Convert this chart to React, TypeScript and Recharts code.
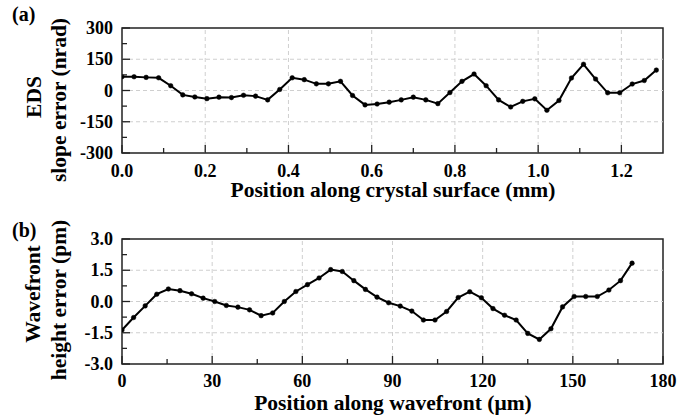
import React from 'react';
import { LineChart, Line, XAxis, YAxis, ReferenceLine, ReferenceArea } from 'recharts';

// ---------- Data ----------
const posA = [0, 0.029, 0.058, 0.088, 0.117, 0.146, 0.175, 0.204, 0.233, 0.263, 0.292, 0.321, 0.35, 0.379, 0.409, 0.438, 0.467, 0.496, 0.525, 0.554, 0.584, 0.613, 0.642, 0.671, 0.7, 0.73, 0.759, 0.788, 0.817, 0.846, 0.875, 0.905, 0.934, 0.963, 0.992, 1.021, 1.05, 1.08, 1.109, 1.138, 1.167, 1.196, 1.226, 1.255, 1.284];
const slopeErr = [66, 66, 63, 61, 23, -21, -31, -39, -32, -34, -23, -27, -45, 5, 61, 52, 32, 32, 44, -24, -69, -65, -56, -45, -32, -45, -63, -10, 44, 79, 23, -45, -79, -52, -40, -95, -48, 60, 126, 55, -11, -11, 31, 48, 98];

const posB = [0, 3.86, 7.71, 11.57, 15.43, 19.29, 23.14, 27.0, 30.86, 34.71, 38.57, 42.43, 46.29, 50.14, 54.0, 57.86, 61.71, 65.57, 69.43, 73.29, 77.14, 81.0, 84.86, 88.71, 92.57, 96.43, 100.29, 104.14, 108.0, 111.86, 115.71, 119.57, 123.43, 127.29, 131.14, 135.0, 138.86, 142.71, 146.57, 150.43, 154.29, 158.14, 162.0, 165.86, 169.71];
const heightErr = [-1.37, -0.77, -0.21, 0.35, 0.6, 0.52, 0.37, 0.16, 0.0, -0.19, -0.27, -0.4, -0.68, -0.55, 0.0, 0.48, 0.81, 1.13, 1.53, 1.44, 1.0, 0.58, 0.21, -0.06, -0.22, -0.46, -0.89, -0.89, -0.48, 0.19, 0.47, 0.18, -0.34, -0.66, -0.89, -1.53, -1.82, -1.31, -0.26, 0.24, 0.24, 0.24, 0.55, 1.0, 1.84];

const xMajorA = [0, 0.2, 0.4, 0.6, 0.8, 1.0, 1.2];
const xMinorA = [0.1, 0.3, 0.5, 0.7, 0.9, 1.1];
const yMajorA = [-300, -150, 0, 150, 300];
const yMinorA = [-225, -75, 75, 225];

const xMajorB = [0, 30, 60, 90, 120, 150, 180];
const xMinorB = [15, 45, 75, 105, 135, 165];
const yMajorB = [-3, -1.5, 0, 1.5, 3];
const yMinorB = [-2.25, -0.75, 0.75, 2.25];

const dataA = posA.map((x, i) => ({ x, y: slopeErr[i] }));
const dataB = posB.map((x, i) => ({ x, y: heightErr[i] }));

const FONT = '"Liberation Serif", "Times New Roman", serif';
const AXIS = '#222';
const GRID = '#cfcfcf';

const isIn = (arr: number[], v: number) => arr.some((a) => Math.abs(a - v) < 1e-9);

function makeXTick(majors: number[], fmt: (v: number) => string, labelDy: number) {
  return (props: any) => {
    const { x, y, payload } = props;
    const v = payload.value;
    const major = isIn(majors, v);
    return (
      <g>
        <line x1={x} x2={x} y1={y} y2={y - (major ? 8 : 5)} stroke={AXIS} strokeWidth={1.3} />
        {major && (
          <text x={x} y={y + labelDy} textAnchor="middle" fontFamily={FONT} fontWeight="bold" fontSize={18} fill="#000">
            {fmt(v)}
          </text>
        )}
      </g>
    );
  };
}

function makeYTick(majors: number[], fmt: (v: number) => string) {
  return (props: any) => {
    const { x, y, payload } = props;
    const v = payload.value;
    const major = isIn(majors, v);
    return (
      <g>
        <line x1={x} x2={x + (major ? 8 : 5)} y1={y} y2={y} stroke={AXIS} strokeWidth={1.3} />
        {major && (
          <text x={x - 9} y={y + 6} textAnchor="end" fontFamily={FONT} fontWeight="bold" fontSize={18} fill="#000">
            {fmt(v)}
          </text>
        )}
      </g>
    );
  };
}

const Panel = (props: {
  data: { x: number; y: number }[];
  xDomain: [number, number];
  yDomain: [number, number];
  xMajor: number[];
  xMinor: number[];
  yMajor: number[];
  yMinor: number[];
  xFmt: (v: number) => string;
  yFmt: (v: number) => string;
  height: number;
  margin: { top: number; right: number; bottom: number; left: number };
  labelDy: number;
}) => {
  const { data, xDomain, yDomain, xMajor, xMinor, yMajor, yMinor, xFmt, yFmt, height, margin, labelDy } = props;
  const xTicks = [...xMajor, ...xMinor].filter((v) => v >= xDomain[0] && v <= xDomain[1]).sort((a, b) => a - b);
  const yTicks = [...yMajor, ...yMinor].sort((a, b) => a - b);
  const vGrid = xMajor.filter((v) => v > xDomain[0] && v < xDomain[1]);
  const hGrid = yMajor.filter((v) => v > yDomain[0] && v < yDomain[1]);
  return (
    <LineChart width={695} height={height} data={data} margin={margin}>
      <XAxis
        dataKey="x"
        type="number"
        domain={xDomain}
        ticks={xTicks}
        interval={0}
        height={1}
        tickSize={0}
        tickMargin={0}
        tickLine={false}
        axisLine={false}
        allowDataOverflow
        tick={makeXTick(xMajor, xFmt, labelDy)}
      />
      <YAxis
        type="number"
        domain={yDomain}
        ticks={yTicks}
        interval={0}
        width={1}
        tickSize={0}
        tickMargin={0}
        tickLine={false}
        axisLine={false}
        allowDataOverflow
        tick={makeYTick(yMajor, yFmt)}
      />
      {vGrid.map((v) => (
        <ReferenceLine key={'v' + v} x={v} stroke={GRID} strokeDasharray="4 3" strokeWidth={1} />
      ))}
      {hGrid.map((v) => (
        <ReferenceLine key={'h' + v} y={v} stroke={GRID} strokeDasharray="4 3" strokeWidth={1} />
      ))}
      <ReferenceArea
        x1={xDomain[0]}
        x2={xDomain[1]}
        y1={yDomain[0]}
        y2={yDomain[1]}
        fill="none"
        fillOpacity={0}
        stroke={AXIS}
        strokeWidth={1.5}
      />
      <Line
        type="linear"
        dataKey="y"
        stroke="#000"
        strokeWidth={2}
        dot={{ r: 2.3, fill: '#000', stroke: '#000', strokeWidth: 0.5 }}
        isAnimationActive={false}
      />
    </LineChart>
  );
};

export default function App() {
  const t = { fontFamily: FONT, fontWeight: 'bold' as const, fill: '#000' };
  return (
    <div style={{ position: 'absolute', left: 0, top: 0, width: 695, height: 417, background: '#fff', overflow: 'hidden' }}>
      <div style={{ position: 'absolute', left: 0, top: 0 }}>
        <Panel
          data={dataA}
          xDomain={[0, 1.3]}
          yDomain={[-300, 300]}
          xMajor={xMajorA}
          xMinor={xMinorA}
          yMajor={yMajorA}
          yMinor={yMinorA}
          xFmt={(v) => v.toFixed(1)}
          yFmt={(v) => String(v)}
          height={205}
          margin={{ top: 28, right: 32, bottom: 51, left: 121 }}
          labelDy={24}
        />
      </div>
      <div style={{ position: 'absolute', left: 0, top: 205 }}>
        <Panel
          data={dataB}
          xDomain={[0, 180]}
          yDomain={[-3, 3]}
          xMajor={xMajorB}
          xMinor={xMinorB}
          yMajor={yMajorB}
          yMinor={yMinorB}
          xFmt={(v) => String(v)}
          yFmt={(v) => v.toFixed(1)}
          height={212}
          margin={{ top: 34, right: 32, bottom: 52, left: 121 }}
          labelDy={23}
        />
      </div>
      <svg width={695} height={417} style={{ position: 'absolute', left: 0, top: 0, pointerEvents: 'none' }}>
        <text x={12} y={21} fontSize={20} {...t}>(a)</text>
        <text x={12} y={237} fontSize={20} {...t}>(b)</text>
        <text x={393} y={197} textAnchor="middle" fontSize={21.5} {...t}>Position along crystal surface (mm)</text>
        <text x={393} y={410} textAnchor="middle" fontSize={21.5} {...t}>Position along wavefront (μm)</text>
        <text transform="translate(41,97) rotate(-90)" textAnchor="middle" fontSize={21.5} {...t}>EDS</text>
        <text transform="translate(66,100) rotate(-90)" textAnchor="middle" fontSize={21.5} {...t}>slope error (nrad)</text>
        <text transform="translate(40,294) rotate(-90)" textAnchor="middle" fontSize={21.5} {...t}>Wavefront</text>
        <text transform="translate(66,300) rotate(-90)" textAnchor="middle" fontSize={21.5} {...t}>height error (pm)</text>
      </svg>
    </div>
  );
}
